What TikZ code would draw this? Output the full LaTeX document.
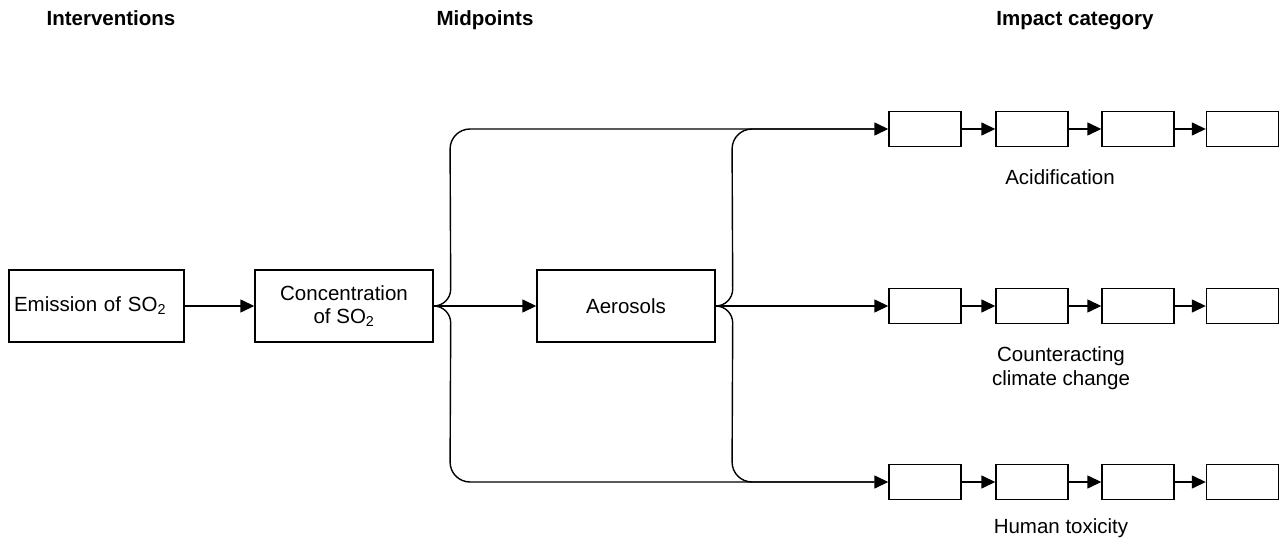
\documentclass[tikz,border=0pt]{standalone}
\usepackage{fontspec}
\setmainfont{Liberation Sans}
\usetikzlibrary{arrows.meta}
\begin{document}
\begin{tikzpicture}[x=1pt,y=-1pt,
  every node/.style={font=\fontsize{20.5}{23.5}\selectfont},
  bigbox/.style={draw,line width=1.4pt,minimum width=176pt,minimum height=72pt,inner sep=2pt,align=center},
  smallbox/.style={draw,line width=1.4pt,minimum width=72pt,minimum height=35pt,inner sep=0pt},
  head/.style={font=\fontsize{20.5}{23.5}\selectfont\bfseries,anchor=base},
  lbl/.style={align=center},
  conn/.style={line width=1.4pt},
  arr/.style={conn,-{Triangle[length=14pt,width=13pt]}}
]
\useasboundingbox (0,0) rectangle (1285,540);

% headers
\node[head] (h1) at (111,26) {Interventions};
\node[head] (h2) at (485,26) {Midpoints};
\node[head] (h3) at (1075,26) {Impact category};

% main boxes
\node[bigbox,minimum width=175pt,text width=165pt,align=left] (emis) at (96.5,306) {Emission of SO\textsubscript{2}};
\node[bigbox,minimum width=178pt] (conc) at (344,306) {Concentration\\of SO\textsubscript{2}};
\node[bigbox,minimum width=178pt] (aer) at (626,306) {Aerosols};

% impact chains
\foreach \r/\y in {1/129,2/306,3/482}{
  \node[smallbox] (r\r b1) at (925,\y) {};
  \node[smallbox] (r\r b2) at (1032,\y) {};
  \node[smallbox] (r\r b3) at (1138,\y) {};
  \node[smallbox] (r\r b4) at (1242.5,\y) {};
  \draw[arr] (r\r b1) -- (r\r b2);
  \draw[arr] (r\r b2) -- (r\r b3);
  \draw[arr] (r\r b3) -- (r\r b4);
}

% labels
\node[lbl] (l1) at (1060,177) {Acidification};
\node[lbl] (l2) at (1061,368) {Counteracting\\climate change};
\node[lbl] (l3) at (1061,528) {Human toxicity};

% brace columns
\coordinate (b1x) at (450,0);
\coordinate (b2x) at (732,0);

% connectors
\draw[arr] (emis) -- (conc);
\draw[arr] (conc.east) -- (aer.west);
\draw[arr] (conc.east) to[out=0,in=-90] ++(17,-17)
  [rounded corners=20pt] -- (b1x |- r1b1.west) -- (r1b1.west);
\draw[arr] (conc.east) to[out=0,in=90] ++(17,17)
  [rounded corners=20pt] -- (b1x |- r3b1.west) -- (r3b1.west);

\draw[arr] (aer.east) -- (r2b1.west);
\draw[conn] (aer.east) to[out=0,in=-90] ++(17,-17)
  [rounded corners=20pt] -- (b2x |- r1b1.west) -- ([xshift=-14pt]r1b1.west);
\draw[conn] (aer.east) to[out=0,in=90] ++(17,17)
  [rounded corners=20pt] -- (b2x |- r3b1.west) -- ([xshift=-14pt]r3b1.west);
\end{tikzpicture}
\end{document}
